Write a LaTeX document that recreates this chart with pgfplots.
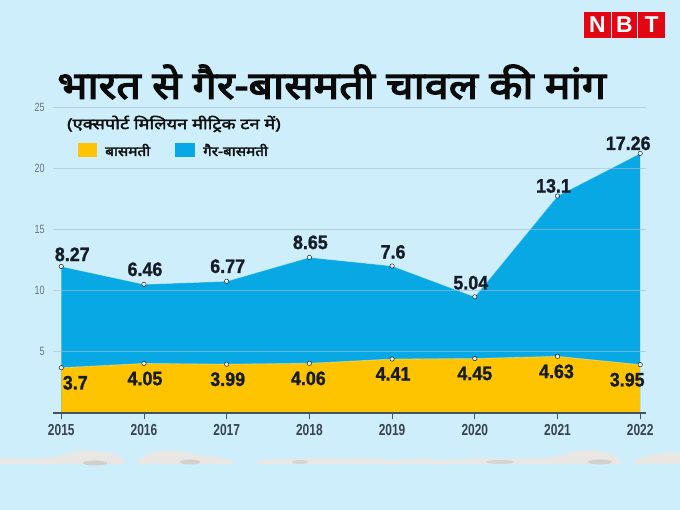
\documentclass[border=0pt]{standalone}
\usepackage{pgfplots}
\pgfplotsset{compat=1.18}
\usepackage{pgfplotstable}
\usepackage{fontspec}
\setmainfont{Liberation Sans}
\newfontfamily\devatitle[Script=Devanagari,FakeStretch=1.14,FakeBold=3.5]{Noto Sans}
\newfontfamily\devasub[Script=Devanagari,FakeStretch=1.22,FakeBold=2.5]{Noto Sans}
\newfontfamily\devaleg[Script=Devanagari,FakeStretch=1.14,FakeBold=2.5]{Noto Sans}
\newfontfamily\cond[FakeStretch=0.75]{Liberation Sans}
\newfontfamily\labfont[FakeStretch=0.92,FakeBold=1.2]{Liberation Sans Bold}
\definecolor{bgblue}{RGB}{205,238,250}
\definecolor{areablue}{RGB}{8,168,228}
\definecolor{areayellow}{RGB}{254,196,0}
\definecolor{labelcol}{RGB}{22,28,40}
\definecolor{gridcol}{RGB}{165,190,202}
\definecolor{axiscol}{RGB}{70,82,95}
\definecolor{nbtred}{RGB}{226,6,19}
\definecolor{rice}{RGB}{236,231,226}
\definecolor{riceshade}{RGB}{200,192,186}

% basm = basmati, nonb = non-basmati, top = basmati + non-basmati
\pgfplotstableread{
year basm nonb top dxb dxn dyn
2015 3.7  8.27  11.97  14  11 5
2016 4.05 6.46  10.51  1   1  8
2017 3.99 6.77  10.76  1   1  8
2018 4.06 8.65  12.71  -1  1  8
2019 4.41 7.6   12.01  1   1  7
2020 4.45 5.04  9.49   0   -4 7
2021 4.63 13.1  17.73  -1  -4 3
2022 3.95 17.26 21.21  -13 -12 3
}\datatable

\begin{document}
\begin{tikzpicture}
\fill[bgblue] (0bp,0bp) rectangle (680bp,510bp);
\path[use as bounding box] (0bp,0bp) rectangle (680bp,510bp);

% rice strip decoration
\begin{scope}[x=1bp,y=1bp]
\fill[rice, opacity=0.9] (0,46) -- (0,52) -- (30,51) -- (55,53) -- (70,57) -- (85,60) -- (105,58) -- (118,55) -- (124,50) -- (124,46) -- cycle;
\fill[rice, opacity=0.9] (136,46) -- (140,52) -- (152,58) -- (170,60) -- (190,57) -- (205,54) -- (225,52) -- (234,48) -- (234,46) -- cycle;
\fill[rice, opacity=0.9] (255,46) -- (262,50) -- (290,51) -- (320,52) -- (345,51) -- (365,52) -- (390,50) -- (420,51) -- (450,50) -- (480,52) -- (510,51) -- (540,52) -- (560,54) -- (575,59) -- (595,60) -- (612,56) -- (620,50) -- (622,46) -- cycle;
\fill[rice, opacity=0.9] (632,46) -- (640,52) -- (655,56) -- (670,58) -- (680,57) -- (680,46) -- cycle;
\fill[riceshade, opacity=0.6] (95,47) ellipse (12 and 2.5);
\fill[riceshade, opacity=0.6] (190,48) ellipse (10 and 2.5);
\fill[riceshade, opacity=0.5] (300,48) ellipse (8 and 2);
\fill[riceshade, opacity=0.5] (500,48) ellipse (14 and 2);
\fill[riceshade, opacity=0.6] (600,48) ellipse (12 and 2.5);
\end{scope}

% NBT logo
\foreach \xa/\xb/\l in {584/611/N,612/637/B,638/665/T}{
  \fill[nbtred] (\xa bp,472bp) rectangle (\xb bp,498bp);
  \node[text=white,font=\fontsize{23}{23}\selectfont\bfseries,inner sep=0pt] at ({(\xa+\xb)/2*1bp},485bp) {\l};
}

% title
\node[anchor=west,inner sep=0pt,text={rgb,255:red,10;green,10;blue,10},font=\devatitle\fontsize{38}{42}\selectfont] at (57bp,428bp) {भारत से गैर-बासमती चावल की मांग};
\node[anchor=west,inner sep=0pt,text={rgb,255:red,15;green,15;blue,15},font=\devasub\fontsize{15}{17}\selectfont] at (67bp,386bp) {(एक्सपोर्ट मिलियन मीट्रिक टन में)};

% legend
\fill[areayellow] (78bp,353bp) rectangle (97bp,367bp);
\node[anchor=west,inner sep=0pt,text={rgb,255:red,15;green,15;blue,15},font=\devaleg\fontsize{13.5}{15}\selectfont] at (105bp,360bp) {बासमती};
\fill[areablue] (175bp,353bp) rectangle (195bp,367bp);
\node[anchor=west,inner sep=0pt,text={rgb,255:red,15;green,15;blue,15},font=\devaleg\fontsize{13.5}{15}\selectfont] at (203bp,360bp) {गैर-बासमती};

\begin{axis}[
  at={(53bp,97bp)}, anchor=south west, scale only axis,
  width=593bp, height=306bp,
  xmin=2014.9, xmax=2022.07, ymin=0, ymax=25,
  clip=false, axis on top,
  separate axis lines,
  axis x line*=bottom, axis y line*=left,
  y axis line style={draw=none},
  x axis line style={draw=axiscol, line width=1.1bp},
  xtick={2015,2016,2017,2018,2019,2020,2021,2022},
  xticklabels={2015,2016,2017,2018,2019,2020,2021,2022},
  ytick={5,10,15,20,25},
  yticklabels={5,10,15,20,25},
  tick align=outside,
  xtick style={draw=axiscol, line width=0.8bp},
  major tick length=6bp,
  ytick style={draw=none},
  ymajorgrids,
  grid style={draw=gridcol, draw opacity=0.6, line width=0.9bp},
  xticklabel style={font=\cond\fontsize{16}{16}\selectfont\bfseries, text={rgb,255:red,55;green,68;blue,80}, yshift=-2bp},
  yticklabel style={font=\cond\fontsize{12}{12}\selectfont, text={rgb,255:red,105;green,115;blue,125}, xshift=1bp},
  /pgf/number format/assume math mode=true,
]
\addplot[draw=none, fill=areablue] table[x=year, y=top] {\datatable} \closedcycle;
\addplot[draw=white, draw opacity=0.35, line width=0.8bp] table[x=year, y=top] {\datatable};
\addplot[draw=none, fill=areayellow] table[x=year, y=basm] {\datatable} \closedcycle;
\addplot[draw=white, draw opacity=0.35, line width=0.8bp] table[x=year, y=basm] {\datatable};
\addplot[only marks, mark=*, mark size=2.2bp, mark options={draw=none, fill=white, fill opacity=0.75},
  point meta=explicit symbolic,
  visualization depends on={\thisrow{dxb} \as \dxb},
  nodes near coords={\pgfplotspointmeta},
  every node near coord/.append style={anchor=north, yshift=-8bp, xshift=\dxb bp,
     font=\labfont\fontsize{19.5}{19.5}\selectfont, text=labelcol, inner sep=0pt,
     fill opacity=1, text opacity=1}
] table[x=year, y=basm, meta=basm] {\datatable};
\addplot[only marks, mark=*, mark size=2.2bp, mark options={draw=none, fill=white, fill opacity=0.75},
  point meta=explicit symbolic,
  visualization depends on={\thisrow{dxn} \as \dxn},
  visualization depends on={\thisrow{dyn} \as \dyn},
  nodes near coords={\pgfplotspointmeta},
  every node near coord/.append style={anchor=south, yshift=\dyn bp, xshift=\dxn bp,
     font=\labfont\fontsize{19.5}{19.5}\selectfont, text=labelcol, inner sep=0pt,
     fill opacity=1, text opacity=1}
] table[x=year, y=top, meta=nonb] {\datatable};
\end{axis}
\end{tikzpicture}
\end{document}
